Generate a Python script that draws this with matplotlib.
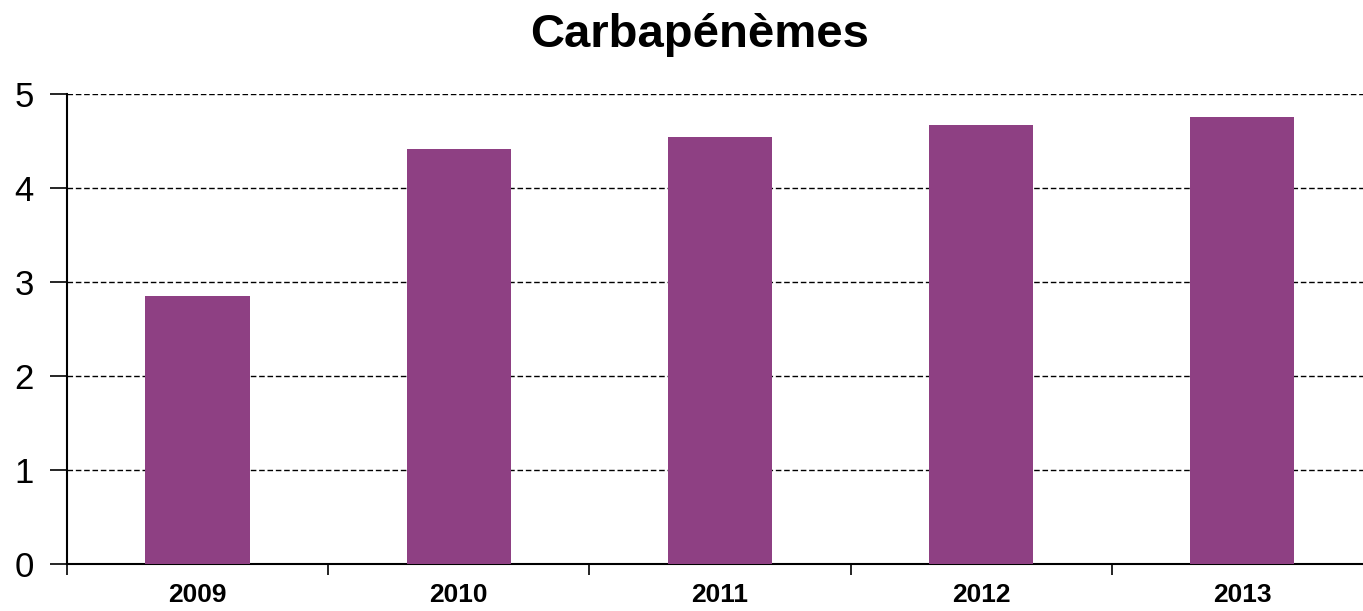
import numpy as np
import matplotlib.pyplot as plt

plt.rcParams['font.family'] = ['Liberation Sans', 'DejaVu Sans']

years = ['2009', '2010', '2011', '2012', '2013']
values = [2.85, 4.41, 4.54, 4.67, 4.755]
bar_color = '#8E4083'

fig = plt.figure(figsize=(13.63, 6.11), dpi=100)
ax = fig.add_axes([0.0492, 0.0769, 0.958, 0.7693])

x = np.arange(len(years))
ax.bar(x, values, width=0.4, color=bar_color, zorder=3)

ax.set_xlim(-0.5, len(years) - 0.5)
ax.set_ylim(0, 5)
ax.set_yticks(range(0, 6))
ax.yaxis.grid(True, linestyle=(0, (4, 2)), color='black', linewidth=1.0, zorder=0)

# category labels centred, tick marks on the category boundaries
ax.set_xticks(x)
ax.set_xticklabels(years, fontsize=19, fontweight='bold')
ax.set_xticks(np.arange(len(years) + 1) - 0.5, minor=True)
ax.tick_params(axis='x', which='major', length=0, pad=14)
ax.tick_params(axis='x', which='minor', length=8, width=1.2, direction='out')
ax.tick_params(axis='y', labelsize=25, length=12, width=1.2, direction='out', pad=12)

for side in ['top', 'right']:
    ax.spines[side].set_visible(False)
for side in ['left', 'bottom']:
    ax.spines[side].set_linewidth(1.5)

fig.text(0.513, 0.943, 'Carbapénèmes', ha='center', va='center', fontsize=34, fontweight='bold')

fig.savefig('out.png', dpi=100)
